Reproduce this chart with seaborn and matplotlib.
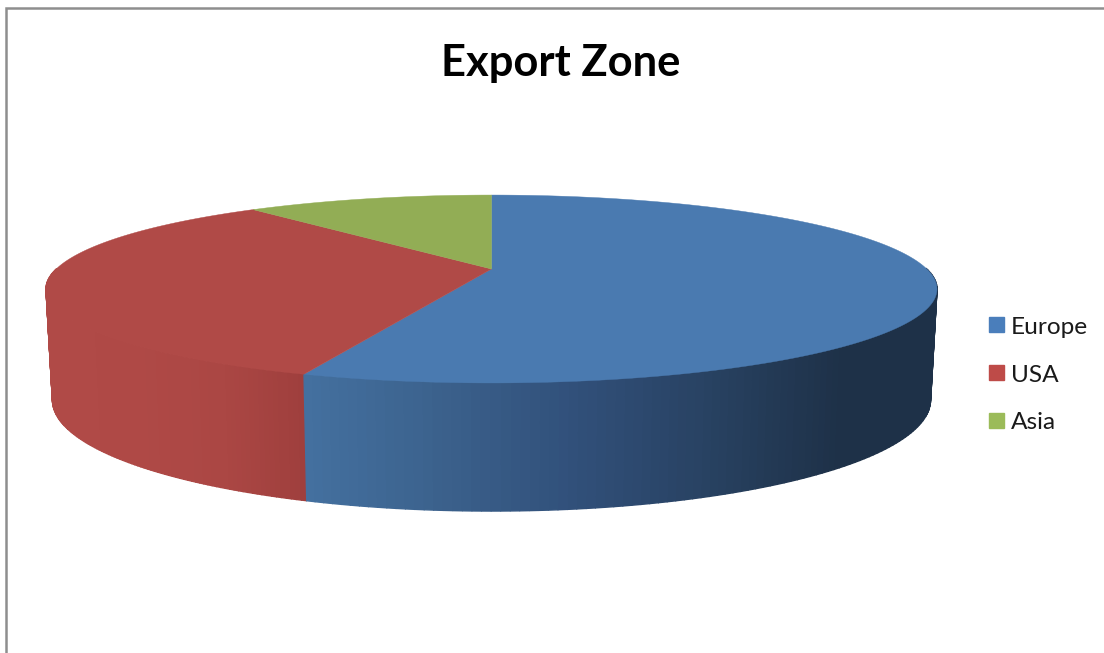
import numpy as np
import matplotlib
matplotlib.use("Agg")
import matplotlib.pyplot as plt
from matplotlib.patches import Polygon, Patch
import seaborn as sns

zones = ["Europe", "USA", "Asia"]
shares = [55.6, 33.4, 11.0]
top_colors = ["#4A7AB0", "#B04A47", "#92AD55"]
legend_colors = ["#4A7EBB", "#BE4B48", "#9BBB59"]
side_stops = [["#44709F", "#3B618C", "#31507A", "#284262", "#1E3148"],
              ["#B04A47", "#AF4946", "#AB4744", "#9F3F3D"],
              ["#92AD55", "#92AD55"]]
side_ranges = [(306, 840), (52, 304), (250, 491)]

sns.set_theme(style="white")
plt.rcParams["font.family"] = ["Lato", "DejaVu Sans"]

# disc outlines in pixels, perspective makes the near edge bigger
CX = 491.5
TOP = dict(a=435.3, b=89.7, k=0.2128, y0=269)
BOTTOM = dict(a=429.0, b=106.0, k=0.2128, y0=376.4)


def project(angle, disc):
    # angle is clockwise from 12 o'clock
    u = np.sin(angle)
    v = np.cos(angle)
    w = 1 + disc["k"] * v
    return CX + disc["a"] * u / w, disc["y0"] - disc["b"] * v / w


fig = plt.figure(figsize=(11.04, 6.53), dpi=100)
ax = fig.add_axes([0, 0, 1, 1])
ax.set_xlim(0, 1104)
ax.set_ylim(653, 0)
ax.axis("off")

# chart frame, runs off the right and bottom of the image
ax.plot([6, 6, 1104], [653, 8, 8], color="#8E8E8E", lw=1.8, solid_joinstyle="miter")

edges = np.cumsum([0] + shares) / sum(shares) * 2 * np.pi

# side wall first, only the near half shows, the top disc covers the rest
strips = []
for i in range(len(zones)):
    shades = sns.blend_palette(side_stops[i], n_colors=200)
    steps = np.linspace(edges[i], edges[i + 1], 200)
    lo, hi = side_ranges[i]
    for a0, a1 in zip(steps[:-1], steps[1:]):
        depth = np.cos((a0 + a1) / 2)
        if depth > 0:
            continue
        x0, y0 = project(a0, TOP)
        x1, y1 = project(a1, TOP)
        x2, y2 = project(a1, BOTTOM)
        x3, y3 = project(a0, BOTTOM)
        pos = int(np.clip(((x0 + x1) / 2 - lo) / (hi - lo), 0, 1) * 199)
        strips.append((depth, [(x0, y0), (x1, y1), (x2, y2), (x3, y3)], shades[pos]))

strips.sort(key=lambda s: -s[0])
for depth, pts, shade in strips:
    ax.add_patch(Polygon(pts, closed=True, fc=shade, ec=shade, lw=1.0))

for i in range(len(zones)):
    steps = np.linspace(edges[i], edges[i + 1], 300)
    xs, ys = project(steps, TOP)
    pts = [(CX, TOP["y0"])] + list(zip(xs, ys))
    ax.add_patch(Polygon(pts, closed=True, fc=top_colors[i], ec=top_colors[i], lw=0.3))

ax.text(561, 63, "Export Zone", ha="center", va="center",
        fontsize=31.3, fontweight="bold", color="black")

handles = [Patch(fc=c, ec=c, label=z) for c, z in zip(legend_colors, zones)]
ax.legend(handles=handles, loc="center left", bbox_to_anchor=(989, 375),
          bbox_transform=ax.transData, frameon=False, fontsize=17.6,
          handlelength=0.6, handleheight=0.57, handletextpad=0.30,
          labelspacing=1.10, borderpad=0, borderaxespad=0, labelcolor="#1A1A1A")

fig.savefig("out.png", dpi=100, facecolor="white")
